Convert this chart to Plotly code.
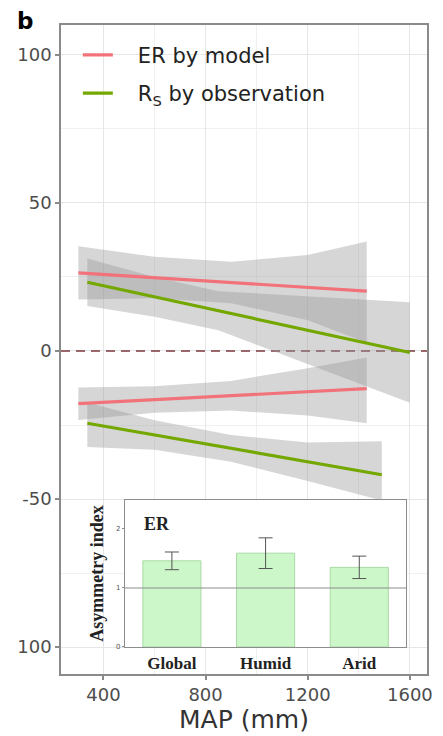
import plotly.graph_objects as go

# ---------------- data ----------------
# ER by model, positive response
er_pos_line_x = [302, 1431]
er_pos_line_y = [26.4, 20.2]
er_pos_band_x = [302, 600, 900, 1200, 1431]
er_pos_band_lo = [17.4, 17.8, 16.1, 10.4, 2.8]
er_pos_band_hi = [35.4, 31.8, 30.1, 32.4, 37.0]

# Rs by observation, positive response
rs_pos_line_x = [337, 1600]
rs_pos_line_y = [23.2, -0.5]
rs_pos_band_x = [337, 600, 850, 1100, 1350, 1600]
rs_pos_band_lo = [15.2, 11.6, 7.0, -1.2, -9.3, -17.5]
rs_pos_band_hi = [31.2, 25.0, 20.2, 19.0, 17.7, 16.5]

# ER by model, negative response
er_neg_line_x = [302, 1431]
er_neg_line_y = [-17.8, -12.7]
er_neg_band_x = [302, 600, 900, 1200, 1431]
er_neg_band_lo = [-23.3, -20.9, -20.1, -21.8, -24.4]
er_neg_band_hi = [-12.3, -11.9, -10.1, -5.8, -2.2]

# Rs by observation, negative response
rs_neg_line_x = [337, 1490]
rs_neg_line_y = [-24.4, -41.8]
rs_neg_band_x = [337, 600, 900, 1200, 1490]
rs_neg_band_lo = [-32.4, -33.4, -37.4, -43.9, -50.5]
rs_neg_band_hi = [-17.4, -23.4, -28.4, -30.9, -30.5]

# inset: asymmetry index of ER
inset_categories = ["Global", "Humid", "Arid"]
inset_values = [1.46, 1.59, 1.35]
inset_errors = [0.15, 0.26, 0.19]

x_tick_vals = [400, 800, 1200, 1600]
x_minor_vals = [600, 1000, 1400]
y_tick_vals = [-100, -50, 0, 50, 100]
y_tick_text = ["100", "-50", "0", "50", "100"]
y_minor_vals = [-75, -25, 25, 75]
inset_y_ticks = [0, 1, 2]

# ---------------- styling ----------------
RED = "#F2727A"
GREEN = "#74A800"
BAND = "rgba(153,153,153,0.40)"
FRAME = "#8A8A8A"
TICKC = "#4D4D4D"
SANS = "DejaVu Sans"
SERIF = "Liberation Serif"

X_RANGE = [234, 1667]
Y_RANGE = [-109.1, 110.1]
INSET_Y_RANGE = [0, 2.49]

fig = go.Figure()


def add_band(xs, lo, hi):
    fig.add_trace(go.Scatter(
        x=list(xs) + list(xs)[::-1], y=list(hi) + list(lo)[::-1],
        fill="toself", fillcolor=BAND, mode="lines", line=dict(width=0),
        hoverinfo="skip", showlegend=False, xaxis="x", yaxis="y"))


add_band(er_pos_band_x, er_pos_band_lo, er_pos_band_hi)
add_band(rs_pos_band_x, rs_pos_band_lo, rs_pos_band_hi)
add_band(er_neg_band_x, er_neg_band_lo, er_neg_band_hi)
add_band(rs_neg_band_x, rs_neg_band_lo, rs_neg_band_hi)


def add_line(xs, ys, color, name, show, group):
    fig.add_trace(go.Scatter(
        x=xs, y=ys, mode="lines", line=dict(color=color, width=3.2),
        name=name, showlegend=show, legendgroup=group,
        xaxis="x", yaxis="y"))


add_line(er_pos_line_x, er_pos_line_y, RED, "   ER by model", True, "er")
add_line(er_neg_line_x, er_neg_line_y, RED, "   ER by model", False, "er")
add_line(rs_pos_line_x, rs_pos_line_y, GREEN, "   R<sub>S</sub> by observation", True, "rs")
add_line(rs_neg_line_x, rs_neg_line_y, GREEN, "   R<sub>S</sub> by observation", False, "rs")

# inset bars
fig.add_trace(go.Bar(
    x=inset_categories, y=inset_values, width=0.62,
    marker=dict(color="#CCF7C8", line=dict(color="#A9D9A4", width=1)),
    error_y=dict(type="data", array=inset_errors, color="#555555",
                 thickness=1, width=7),
    showlegend=False, xaxis="x2", yaxis="y2"))

# dashed zero line
fig.add_shape(type="line", xref="x", yref="y", x0=X_RANGE[0], x1=X_RANGE[1],
              y0=0, y1=0, layer="between",
              line=dict(color="#7A3A40", width=1.6, dash="9px,6px"))
# reference line at 1 in inset
fig.add_shape(type="line", xref="x2 domain", yref="y2", x0=0, x1=1,
              y0=1, y1=1, layer="above",
              line=dict(color="#8C8C8C", width=1))

fig.add_annotation(text="<b>b</b>", xref="paper", yref="paper",
                   x=-0.125, y=1.03, xanchor="left", yanchor="top",
                   showarrow=False, font=dict(family=SANS, size=23, color="black"))
fig.add_annotation(text="<b>ER</b>", xref="x2 domain", yref="y2 domain",
                   x=0.06, y=0.84, xanchor="left", yanchor="middle",
                   showarrow=False, font=dict(family=SERIF, size=18, color="#222"))
# x-axis title
fig.add_annotation(text="MAP (mm)", xref="paper", yref="paper",
                   x=0.5, y=-0.0705, xanchor="center", yanchor="middle",
                   showarrow=False, font=dict(family=SANS, size=25, color="#333"))

fig.update_layout(
    width=443, height=736,
    margin=dict(l=61, r=16, t=25, b=62, autoexpand=False),
    paper_bgcolor="white", plot_bgcolor="white",
    font=dict(family=SANS, color=TICKC),
    showlegend=True,
    legend=dict(x=0.046, y=0.985, xanchor="left", yanchor="top",
                bgcolor="rgba(0,0,0,0)", tracegroupgap=8,
                font=dict(family=SANS, size=21, color="#222")),
    xaxis=dict(domain=[0, 1], range=X_RANGE, tickvals=x_tick_vals,
               automargin=False,
               showgrid=True, gridcolor="#E6E6E6", gridwidth=1,
               minor=dict(tickvals=x_minor_vals, showgrid=True,
                          gridcolor="#F0F0F0", gridwidth=0.8),
               showline=True, mirror=True, linecolor=FRAME, linewidth=1.5,
               ticks="outside", ticklen=4, tickcolor=FRAME, tickwidth=1.5,
               tickfont=dict(family=SANS, size=18, color=TICKC),
               zeroline=False),
    yaxis=dict(domain=[0, 1], range=Y_RANGE, tickvals=y_tick_vals,
               ticktext=y_tick_text, automargin=False,
               showgrid=True, gridcolor="#E6E6E6", gridwidth=1,
               minor=dict(tickvals=y_minor_vals, showgrid=True,
                          gridcolor="#F0F0F0", gridwidth=0.8),
               showline=True, mirror=True, linecolor=FRAME, linewidth=1.5,
               ticks="outside", ticklen=4, tickcolor=FRAME, tickwidth=1.5,
               tickfont=dict(family=SANS, size=18, color=TICKC),
               zeroline=False),
    xaxis2=dict(domain=[0.175, 0.943], anchor="y2", range=[-0.5, 2.5],
                type="category", showgrid=False, zeroline=False,
                automargin=False,
                showline=True, mirror=True, linecolor="#8C8C8C", linewidth=1.2,
                ticks="", tickfont=dict(family=SERIF, size=17, color="#222",
                                        weight="bold")),
    yaxis2=dict(domain=[0.0416, 0.268], anchor="x2", range=INSET_Y_RANGE,
                tickvals=inset_y_ticks, showgrid=False, zeroline=False,
                automargin=False,
                showline=True, mirror=True, linecolor="#8C8C8C", linewidth=1.2,
                ticks="outside", ticklen=2, tickcolor="#8C8C8C",
                tickfont=dict(family=SANS, size=7, color="#555"),
                title=dict(text="Asymmetry index", standoff=7,
                           font=dict(family=SERIF, size=18, color="#222",
                                     weight="bold"))),
)

fig.write_html("out.html")
